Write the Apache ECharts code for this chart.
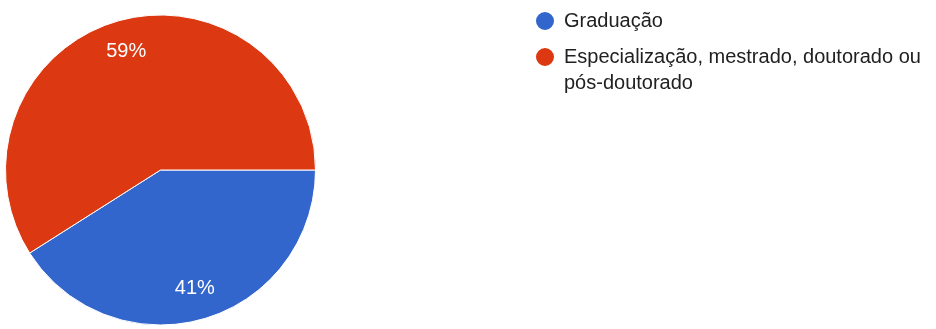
<!DOCTYPE html>
<html>
<head>
<meta charset="utf-8">
<style>
  html, body { margin: 0; padding: 0; background: #fff; }
  #chart { width: 936px; height: 329px; }
</style>
<script src="https://cdn.jsdelivr.net/npm/echarts@6/dist/echarts.min.js"></script>
</head>
<body>
<div id="chart"></div>
<script>
// Pizza de escolaridade — 2 fatias + legenda à direita

const CATEGORIES = ['Graduação', 'Especialização, mestrado, doutorado ou pós-doutorado'];
const VALUES = [41, 59];
const COLORS = ['#3366cc', '#dc3912'];
// quebra de linha da legenda (linha vazia no início mantém o ícone na 1ª linha)
const LEGEND_LINES = ['Graduação', '\nEspecialização, mestrado, doutorado ou\npós-doutorado'];

const CENTER = [160.5, 170];
const RADIUS = 155;
const LABEL_R = 123;   // rótulo fica a ~79% do raio

const FONT = '"Liberation Sans", Arial, sans-serif';

const chart = echarts.init(document.getElementById('chart'), null, { renderer: 'canvas' });

function legendFor(i, top) {
  return {
    orient: 'vertical',
    left: 534,
    top: top,
    padding: 0,
    icon: 'circle',
    itemWidth: 20,
    itemHeight: 20,
    selectedMode: false,
    data: [CATEGORIES[i]],
    formatter: () => LEGEND_LINES[i],
    textStyle: {
      fontFamily: FONT,
      fontSize: 20,
      lineHeight: 26,
      color: '#212121',
      padding: [0, 0, 0, 4],
    },
  };
}

chart.setOption({
  animation: false,
  color: COLORS,
  legend: [legendFor(0, 8), legendFor(1, 18)],
  series: [{
    type: 'pie',
    center: CENTER,
    radius: [0, RADIUS],
    startAngle: 0,
    clockwise: true,
    data: CATEGORIES.map((name, i) => ({ name, value: VALUES[i] })),
    itemStyle: { borderColor: '#fff', borderWidth: 1 },
    label: {
      show: true,
      position: 'inside',
      formatter: (p) => Math.round(p.percent) + '%',
      color: '#fff',
      fontFamily: FONT,
      fontSize: 20,
    },
    labelLine: { show: false },
    // empurra o rótulo para fora, ao longo do mesmo ângulo
    labelLayout: (p) => {
      const r = p.labelRect;
      const lx = r.x + r.width / 2 - CENTER[0];
      const ly = r.y + r.height / 2 - CENTER[1];
      const d = Math.sqrt(lx * lx + ly * ly) || 1;
      const k = LABEL_R / d - 1;
      return { dx: lx * k, dy: ly * k };
    },
    emphasis: { disabled: true },
  }],
});
</script>
</body>
</html>
